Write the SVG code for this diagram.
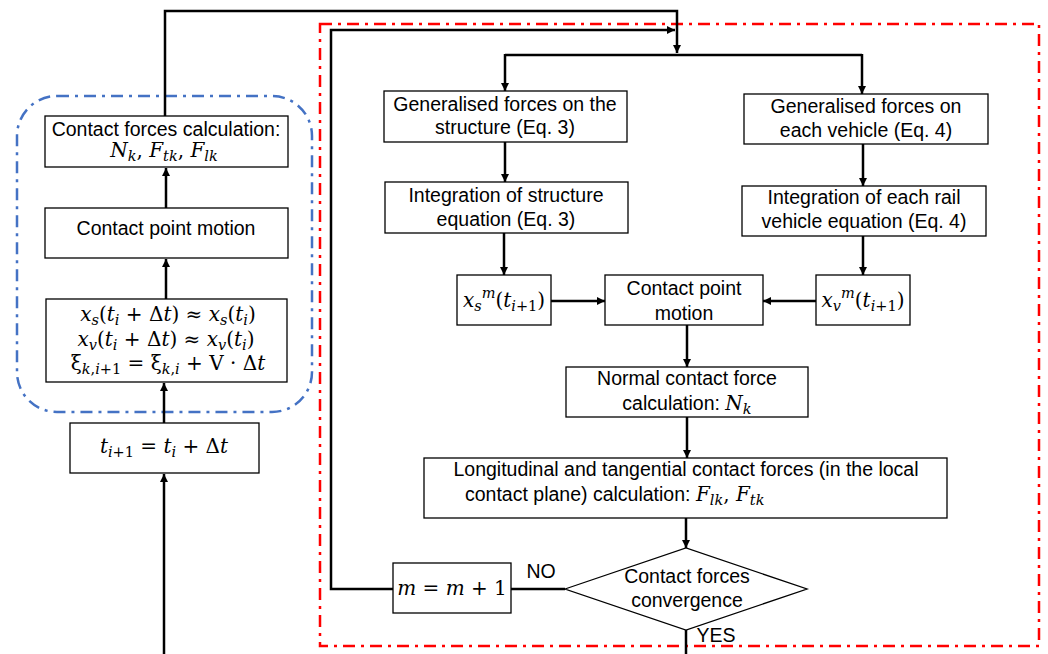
<svg xmlns="http://www.w3.org/2000/svg" width="1048" height="654" viewBox="0 0 1048 654">
<style>
.box{fill:#fff;stroke:#000;stroke-width:1.3}
.t{font-family:"Liberation Sans",Arial,sans-serif;font-size:19.5px;fill:#000;text-anchor:middle}
.m{font-family:"DejaVu Serif","Liberation Serif",serif;font-size:20px;fill:#000;text-anchor:middle}
.i{font-style:italic}
.sb{font-size:14.5px}
.c{fill:none;stroke:#000;stroke-width:2.5}
.red{fill:none;stroke:#FF0000;stroke-width:2.5;stroke-dasharray:12 6 3 6}
.blue{fill:none;stroke:#4472C4;stroke-width:2.5;stroke-dasharray:12 6 3 6}
</style>
<defs>
<marker id="ah" viewBox="0 0 10 10" refX="10" refY="5" markerWidth="9" markerHeight="8" markerUnits="userSpaceOnUse" orient="auto">
<path d="M0,0 L10,5 L0,10 z" fill="#000"/>
</marker>
</defs>

<g id="regions">
<rect class="blue" x="17" y="96" width="295" height="316" rx="40" ry="40"/>
<rect class="red" x="320" y="24" width="719" height="622"/>
</g>

<g id="connectors">
<path class="c" d="M164,654 V474" marker-end="url(#ah)"/>
<path class="c" d="M164,423 V383" marker-end="url(#ah)"/>
<path class="c" d="M166,299 V259" marker-end="url(#ah)"/>
<path class="c" d="M166,208 V168" marker-end="url(#ah)"/>
<path class="c" d="M165,116 V11 H677 V53" marker-end="url(#ah)"/>
<path class="c" d="M862,55 H505"/>
<path class="c" d="M505,54 V91" marker-end="url(#ah)"/>
<path class="c" d="M862,54 V94" marker-end="url(#ah)"/>
<path class="c" d="M505,142 V182" marker-end="url(#ah)"/>
<path class="c" d="M863,144 V186" marker-end="url(#ah)"/>
<path class="c" d="M504,233 V275" marker-end="url(#ah)"/>
<path class="c" d="M863,236 V275" marker-end="url(#ah)"/>
<path class="c" d="M551,301 H605" marker-end="url(#ah)"/>
<path class="c" d="M816,301 H763" marker-end="url(#ah)"/>
<path class="c" d="M687,325 V367" marker-end="url(#ah)"/>
<path class="c" d="M687,417 V458" marker-end="url(#ah)"/>
<path class="c" d="M686,518 V548" marker-end="url(#ah)"/>
<path class="c" d="M565,589 H511"/>
<path class="c" d="M393,589 H331 V30 H675" marker-end="url(#ah)"/>
<path class="c" d="M686,630 V654"/>
<text class="t" x="541" y="578">NO</text>
<text class="t" x="716" y="642">YES</text>
</g>

<g id="n-contact-forces">
<rect class="box" x="45" y="116" width="243" height="51"/>
<text class="t" x="166" y="136">Contact forces calculation:</text>
<text class="m" x="164" y="157"><tspan class="i">N</tspan><tspan class="i sb" dy="4">k</tspan><tspan dy="-4">, </tspan><tspan class="i">F</tspan><tspan class="i sb" dy="4">tk</tspan><tspan dy="-4">, </tspan><tspan class="i">F</tspan><tspan class="i sb" dy="4">lk</tspan></text>
</g>

<g id="n-contact-point-left">
<rect class="box" x="45" y="208" width="243" height="50"/>
<text class="t" x="166" y="235">Contact point motion</text>
</g>

<g id="n-approx">
<rect class="box" x="46" y="299" width="241" height="83"/>
<text class="m" x="168" y="321"><tspan class="i">x</tspan><tspan class="i sb" dy="4">s</tspan><tspan dy="-4">(</tspan><tspan class="i">t</tspan><tspan class="i sb" dy="4">i</tspan><tspan dy="-4"> + Δ</tspan><tspan class="i">t</tspan><tspan>) ≈ </tspan><tspan class="i">x</tspan><tspan class="i sb" dy="4">s</tspan><tspan dy="-4">(</tspan><tspan class="i">t</tspan><tspan class="i sb" dy="4">i</tspan><tspan dy="-4">)</tspan></text>
<text class="m" x="166" y="346"><tspan class="i">x</tspan><tspan class="i sb" dy="4">v</tspan><tspan dy="-4">(</tspan><tspan class="i">t</tspan><tspan class="i sb" dy="4">i</tspan><tspan dy="-4"> + Δ</tspan><tspan class="i">t</tspan><tspan>) ≈ </tspan><tspan class="i">x</tspan><tspan class="i sb" dy="4">v</tspan><tspan dy="-4">(</tspan><tspan class="i">t</tspan><tspan class="i sb" dy="4">i</tspan><tspan dy="-4">)</tspan></text>
<text class="m" x="168" y="370"><tspan>ξ</tspan><tspan class="sb" dy="4"><tspan class="i">k</tspan>,<tspan class="i">i</tspan>+1</tspan><tspan dy="-4"> = ξ</tspan><tspan class="sb" dy="4"><tspan class="i">k</tspan>,<tspan class="i">i</tspan></tspan><tspan dy="-4"> + V · Δ</tspan><tspan class="i">t</tspan></text>
</g>

<g id="n-time-step">
<rect class="box" x="70" y="423" width="189" height="50"/>
<text class="m" x="164" y="453"><tspan class="i">t</tspan><tspan class="sb" dy="4"><tspan class="i">i</tspan>+1</tspan><tspan dy="-4"> = </tspan><tspan class="i">t</tspan><tspan class="i sb" dy="4">i</tspan><tspan dy="-4"> + Δ</tspan><tspan class="i">t</tspan></text>
</g>

<g id="n-gen-structure">
<rect class="box" x="384" y="91" width="243" height="51"/>
<text class="t" x="505" y="111">Generalised forces on the</text>
<text class="t" x="505" y="134">structure (Eq. 3)</text>
</g>

<g id="n-int-structure">
<rect class="box" x="385" y="182" width="243" height="51"/>
<text class="t" x="506" y="202">Integration of structure</text>
<text class="t" x="506" y="226">equation (Eq. 3)</text>
</g>

<g id="n-gen-vehicle">
<rect class="box" x="744" y="94" width="244" height="50"/>
<text class="t" x="866" y="113">Generalised forces on</text>
<text class="t" x="866" y="137">each vehicle (Eq. 4)</text>
</g>

<g id="n-int-vehicle">
<rect class="box" x="742" y="186" width="244" height="50"/>
<text class="t" x="864" y="204">Integration of each rail</text>
<text class="t" x="864" y="228">vehicle equation (Eq. 4)</text>
</g>

<g id="n-xs">
<rect class="box" x="457" y="275" width="94" height="50"/>
<text class="m" x="504" y="307"><tspan class="i">x</tspan><tspan class="i sb" dy="4">s</tspan><tspan class="i sb" dy="-13">m</tspan><tspan dy="9">(</tspan><tspan class="i">t</tspan><tspan class="sb" dy="4"><tspan class="i">i</tspan>+1</tspan><tspan dy="-4">)</tspan></text>
</g>

<g id="n-contact-point-right">
<rect class="box" x="605" y="275" width="158" height="50"/>
<text class="t" x="684" y="295">Contact point</text>
<text class="t" x="684" y="320">motion</text>
</g>

<g id="n-xv">
<rect class="box" x="816" y="275" width="94" height="50"/>
<text class="m" x="863" y="307"><tspan class="i">x</tspan><tspan class="i sb" dy="4">v</tspan><tspan class="i sb" dy="-13">m</tspan><tspan dy="9">(</tspan><tspan class="i">t</tspan><tspan class="sb" dy="4"><tspan class="i">i</tspan>+1</tspan><tspan dy="-4">)</tspan></text>
</g>

<g id="n-normal">
<rect class="box" x="566" y="367" width="242" height="50"/>
<text class="t" x="687" y="385">Normal contact force</text>
<text class="t" x="687" y="410">calculation: <tspan class="m i" style="text-anchor:start">N</tspan><tspan class="m i sb" style="text-anchor:start" dy="4">k</tspan></text>
</g>

<g id="n-tangential">
<rect class="box" x="424" y="458" width="523" height="60"/>
<text class="t" x="686" y="476">Longitudinal and tangential contact forces (in the local</text>
<text class="t" x="465" y="501" style="text-anchor:start">contact plane) calculation: <tspan class="m i" style="text-anchor:start">F</tspan><tspan class="m i sb" style="text-anchor:start" dy="4">lk</tspan><tspan class="m" style="text-anchor:start" dy="-4">, </tspan><tspan class="m i" style="text-anchor:start">F</tspan><tspan class="m i sb" style="text-anchor:start" dy="4">tk</tspan></text>
</g>

<g id="n-m-update">
<rect class="box" x="393" y="563" width="118" height="50"/>
<text class="m" x="452" y="595"><tspan class="i">m</tspan> = <tspan class="i">m</tspan> + 1</text>
</g>

<g id="n-convergence">
<polygon class="box" points="565,589 686,548 807,589 686,630"/>
<text class="t" x="687" y="583">Contact forces</text>
<text class="t" x="687" y="607">convergence</text>
</g>
</svg>
